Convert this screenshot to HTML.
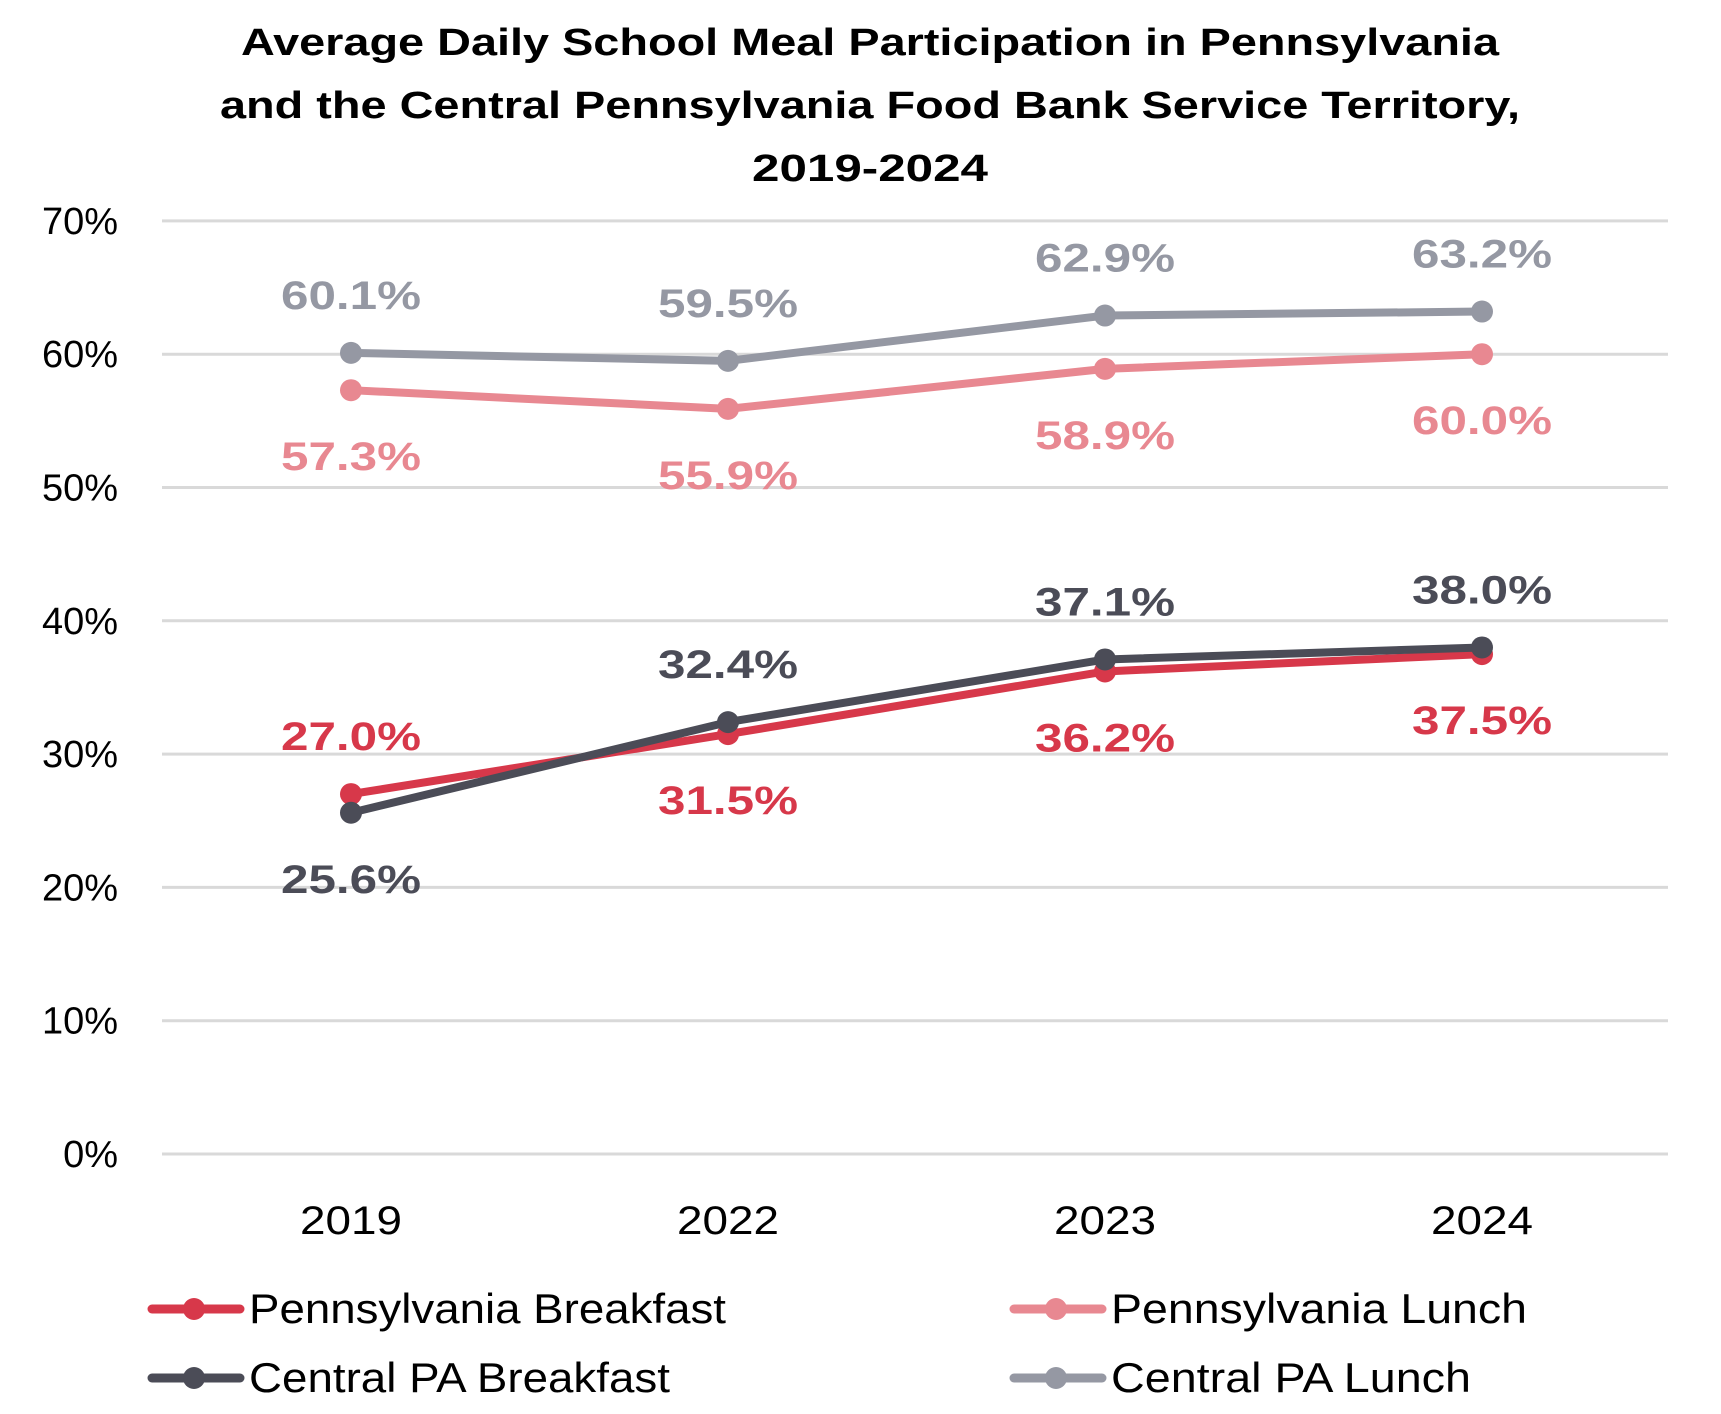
<!DOCTYPE html>
<html><head><meta charset="utf-8"><style>
body{margin:0;background:#fff}
svg{display:block;font-family:"Liberation Sans",sans-serif}
</style></head><body>
<svg id="c" width="1721" height="1414" viewBox="0 0 1721 1414">
<g font-weight="bold" font-size="38" text-anchor="middle" fill="#000">
<text x="870" y="55" textLength="1258" lengthAdjust="spacingAndGlyphs">Average Daily School Meal Participation in Pennsylvania</text>
<text x="870" y="118" textLength="1300" lengthAdjust="spacingAndGlyphs">and the Central Pennsylvania Food Bank Service Territory,</text>
<text x="870" y="181" textLength="236" lengthAdjust="spacingAndGlyphs">2019-2024</text>
</g>
<g id="grid"></g><g id="yt"></g><g id="xt"></g><g id="series"></g><g id="labels"></g><g id="legend"></g>
</svg>
<script>
const categories=["2019","2022","2023","2024"];
const yTicks=[0,10,20,30,40,50,60,70];
const paBreakfast=[27.0,31.5,36.2,37.5];
const paLunch=[57.3,55.9,58.9,60.0];
const cpBreakfast=[25.6,32.4,37.1,38.0];
const cpLunch=[60.1,59.5,62.9,63.2];
const seriesNames=["Pennsylvania Breakfast","Pennsylvania Lunch","Central PA Breakfast","Central PA Lunch"];
const NS="http://www.w3.org/2000/svg";
function x(i){return 351+377*i;}
function y(v){return 1154-v*13.33;}
function el(t,a,p){const e=document.createElementNS(NS,t);for(const k in a)e.setAttribute(k,a[k]);p.appendChild(e);return e;}
const grid=document.getElementById('grid'),yt=document.getElementById('yt'),xt=document.getElementById('xt');
yTicks.forEach(v=>{
 const l=el('line',{x1:162,x2:1668,y1:y(v),y2:y(v),stroke:'#d9d9d9','stroke-width':3},grid);
 
 
 const t=el('text',{x:118,y:y(v)+13,'font-size':38,'text-anchor':'end',fill:'#000'},yt);
 t.textContent=v+'%';
 
 
});
categories.forEach((c,i)=>{
 const t=el('text',{x:x(i),y:1234,'font-size':40,'text-anchor':'middle',fill:'#000',textLength:102,lengthAdjust:'spacingAndGlyphs'},xt);
 t.textContent=c;
 
 
});
const S=[
 {d:paBreakfast,c:'#d7384a',pos:[-1,1,1,1],n:'pa-breakfast'},
 {d:paLunch,c:'#e88891',pos:[1,1,1,1],n:'pa-lunch'},
 {d:cpBreakfast,c:'#4b4c57',pos:[1,-1,-1,-1],n:'cp-breakfast'},
 {d:cpLunch,c:'#9598a3',pos:[-1,-1,-1,-1],n:'cp-lunch'}
];
const sg=document.getElementById('series'),lg=document.getElementById('labels');
[1,3,0,2].forEach(k=>{
 const s=S[k];
 const g=el('g',{},sg);
 
 
 const p=el('polyline',{points:s.d.map((v,i)=>x(i)+','+y(v)).join(' '),fill:'none',stroke:s.c,'stroke-width':8,'stroke-linejoin':'round'},g);
 
 
 s.d.forEach((v,i)=>{
  const m=el('circle',{cx:x(i),cy:y(v),r:11,fill:s.c},g);
  
  
  const t=el('text',{x:x(i),y:y(v)+(s.pos[i]<0?-58:66)+14,'font-size':40,'font-weight':'bold','text-anchor':'middle',fill:s.c,textLength:140,lengthAdjust:'spacingAndGlyphs'},lg);
  t.textContent=v.toFixed(1)+'%';
  
  
 });
});
const leg=document.getElementById('legend');
const lp=[[148,1309,0],[1010,1309,1],[148,1378,2],[1010,1378,3]];
const lw=[477,416,421,360];
lp.forEach(([lx,ly,k])=>{
 const g=el('g',{},leg);
 
 
 el('line',{x1:lx+4,x2:lx+92,y1:ly,y2:ly,stroke:S[k].c,'stroke-width':9,'stroke-linecap':'round'},g);
 el('circle',{cx:lx+46,cy:ly,r:11,fill:S[k].c},g);
 const t=el('text',{x:lx+101,y:ly+14,'font-size':42,fill:'#000',textLength:lw[k],lengthAdjust:'spacingAndGlyphs'},g);
 t.textContent=seriesNames[k];
});
</script>
</body></html>
